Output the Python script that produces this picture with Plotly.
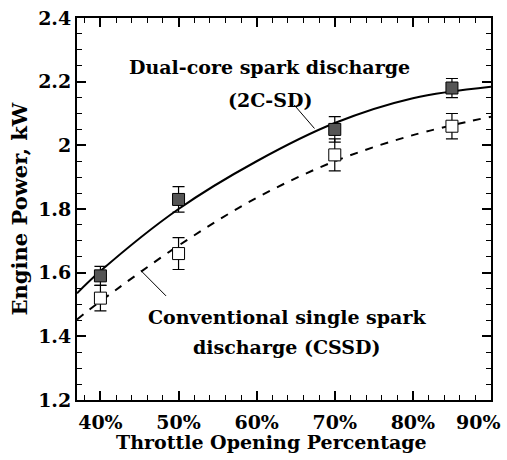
import plotly.graph_objects as go

# ---- data ----
throttle = [40, 50, 70, 85]
power_2csd = [1.59, 1.83, 2.05, 2.18]
err_2csd = [0.03, 0.04, 0.04, 0.03]
power_cssd = [1.52, 1.66, 1.97, 2.06]
err_cssd = [0.04, 0.05, 0.05, 0.04]

# trend curves
fit_x = [37, 40, 50, 60, 70, 80, 90]
fit_2csd = [1.535, 1.605, 1.80, 1.95, 2.07, 2.148, 2.184]
fit_cssd = [1.453, 1.51, 1.685, 1.835, 1.95, 2.032, 2.09]

x_tickvals = [40, 50, 60, 70, 80, 90]
x_ticktext = ["40%", "50%", "60%", "70%", "80%", "90%"]
y_tickvals = [1.2, 1.4, 1.6, 1.8, 2.0, 2.2, 2.4]
y_ticktext = ["1.2", "1.4", "1.6", "1.8", "2", "2.2", "2.4"]

label_2csd = ["Dual-core spark discharge", "(2C-SD)"]
label_cssd = ["Conventional single spark", "discharge (CSSD)"]
label_2csd_pos = (61.7, [2.246, 2.142])
label_cssd_pos = (63.9, [1.461, 1.367])
leader_2csd = ([64.8, 67.4], [2.127, 2.053])
leader_cssd = ([48.4, 45.2], [1.527, 1.606])

FONT = "DejaVu Serif"
FS = 19

fig = go.Figure()
fig.add_trace(go.Scatter(x=fit_x, y=fit_2csd, mode="lines", line=dict(color="black", width=2, shape="spline"),
                         showlegend=False, hoverinfo="skip"))
fig.add_trace(go.Scatter(x=fit_x, y=fit_cssd, mode="lines",
                         line=dict(color="black", width=2, dash="8px,8px", shape="spline"),
                         showlegend=False, hoverinfo="skip"))
fig.add_trace(go.Scatter(x=throttle, y=power_2csd, mode="markers",
                         marker=dict(symbol="square", size=12, color="#555555", line=dict(color="black", width=1)),
                         error_y=dict(type="data", array=err_2csd, color="black", thickness=1.2, width=6),
                         showlegend=False))
fig.add_trace(go.Scatter(x=throttle, y=power_cssd, mode="markers",
                         marker=dict(symbol="square", size=12, color="white", line=dict(color="black", width=1)),
                         error_y=dict(type="data", array=err_cssd, color="black", thickness=1.2, width=6),
                         showlegend=False))

bold = dict(family=FONT, size=FS, color="black", weight="bold")
annotations = []
for txt, yy in zip(label_2csd, label_2csd_pos[1]):
    annotations.append(dict(x=label_2csd_pos[0], y=yy, xref="x", yref="y", text=txt, showarrow=False, font=bold))
for txt, yy in zip(label_cssd, label_cssd_pos[1]):
    annotations.append(dict(x=label_cssd_pos[0], y=yy, xref="x", yref="y", text=txt, showarrow=False, font=bold))
annotations.append(dict(x=0.4686, y=-0.11, xref="paper", yref="paper", yanchor="middle",
                        text="Throttle Opening Percentage", showarrow=False, font=bold))
# last x tick label sits flush with the right edge in the reference
annotations.append(dict(x=x_tickvals[-1], y=-0.057, xref="x", yref="paper", xanchor="right", yanchor="middle",
                        xshift=12, text=x_ticktext[-1], showarrow=False, font=bold))
shown_ticktext = x_ticktext[:-1] + [""]

shapes = []
for lx, ly in (leader_2csd, leader_cssd):
    shapes.append(dict(type="line", xref="x", yref="y", x0=lx[0], y0=ly[0], x1=lx[1], y1=ly[1],
                       line=dict(color="black", width=1)))

fig.update_layout(
    width=507, height=460,
    margin=dict(l=77, r=16, t=18, b=60, autoexpand=False),
    paper_bgcolor="white", plot_bgcolor="white",
    annotations=annotations, shapes=shapes,
    font=dict(family=FONT, size=FS, color="black"),
)
fig.update_xaxes(range=[37, 90], tickvals=x_tickvals, ticktext=shown_ticktext, automargin=False,
                 ticklabelstandoff=4,
                 ticks="inside", ticklen=9, tickwidth=1.5, tickcolor="black",
                 minor=dict(dtick=2, tick0=0, ticks="inside", ticklen=5, tickwidth=1, tickcolor="black"),
                 showline=True, linewidth=2, linecolor="black", mirror="ticks",
                 showgrid=False, zeroline=False, tickfont=bold)
fig.update_yaxes(range=[1.2, 2.4], tickvals=y_tickvals, ticktext=y_ticktext, automargin=False,
                 ticks="inside", ticklen=9, tickwidth=1.5, tickcolor="black",
                 minor=dict(dtick=0.05, tick0=0, ticks="inside", ticklen=5, tickwidth=1, tickcolor="black"),
                 showline=True, linewidth=2, linecolor="black", mirror="ticks",
                 showgrid=False, zeroline=False,
                 title=dict(text="Engine Power, kW", standoff=5,
                            font=dict(family=FONT, size=21, color="black", weight="bold")),
                 tickfont=bold)

fig.write_html("out.html", config={"displayModeBar": False},
               post_script="document.body.style.margin='0';")
